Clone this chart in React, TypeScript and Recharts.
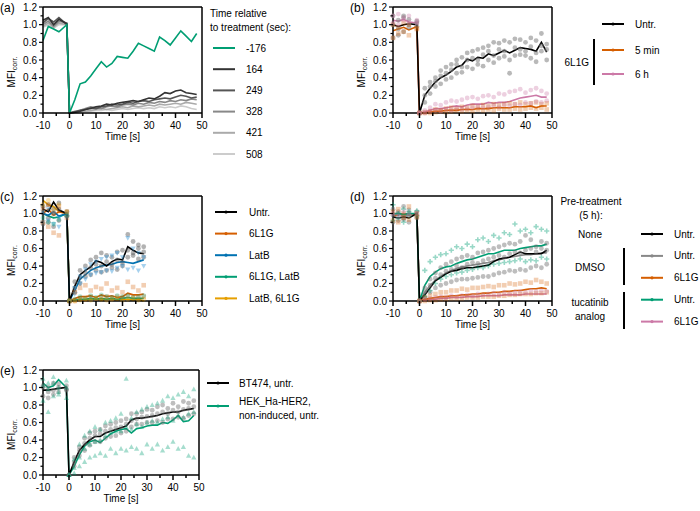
import React from "react";
import { ComposedChart, Line, Scatter, XAxis, YAxis, ReferenceLine } from "recharts";

const FONT = "'Liberation Sans', Arial, sans-serif";
const GREEN = "#009E73";
const ORANGE = "#D55E00";
const PINK = "#CC79A7";
const BLUE = "#0072B2";
const YELLOW = "#E69F00";

// sampling times (s), shared by every panel
const T = [-10, -8, -6, -4, -1, 0, 2, 4, 6, 8, 10, 12, 14, 16, 18, 20, 22, 24, 26, 28, 30, 32, 34, 36, 38, 40, 42, 44, 46, 48];
const X_TICKS = [-10, -5, 0, 5, 10, 15, 20, 25, 30, 35, 40, 45, 50];
const Y_TICKS = [0, 0.1, 0.2, 0.3, 0.4, 0.5, 0.6, 0.7, 0.8, 0.9, 1.0, 1.1, 1.2];

// (a) single traces, time relative to treatment
const A_LABELS = ["-176", "164", "249", "328", "421", "508"];
const aM176 = [0.82, 0.98, 0.95, 0.92, 1.0, 0, 0.15, 0.33, 0.35, 0.42, 0.5, 0.58, 0.52, 0.56, 0.64, 0.63, 0.62, 0.7, 0.79, 0.76, 0.73, 0.7, 0.86, 0.82, 0.77, 0.85, 0.93, 0.87, 0.81, 0.9];
const a164 = [1.05, 1.08, 1.0, 1.06, 1.01, 0, 0.01, 0.02, 0.04, 0.05, 0.07, 0.08, 0.1, 0.09, 0.11, 0.12, 0.13, 0.14, 0.13, 0.15, 0.17, 0.16, 0.19, 0.23, 0.22, 0.25, 0.26, 0.23, 0.22, 0.21];
const a249 = [1.02, 1.07, 1.03, 1.08, 1.0, 0, 0.01, 0.03, 0.04, 0.06, 0.05, 0.07, 0.08, 0.1, 0.09, 0.1, 0.12, 0.11, 0.13, 0.14, 0.13, 0.15, 0.16, 0.17, 0.16, 0.18, 0.2, 0.19, 0.17, 0.18];
const a328 = [1.0, 1.04, 0.98, 1.04, 1.02, 0, 0.02, 0.03, 0.05, 0.07, 0.06, 0.05, 0.07, 0.08, 0.07, 0.09, 0.1, 0.09, 0.11, 0.1, 0.12, 0.11, 0.13, 0.12, 0.14, 0.13, 0.15, 0.14, 0.16, 0.15];
const a421 = [0.98, 1.02, 0.97, 1.02, 1.0, 0, 0.01, 0.02, 0.02, 0.03, 0.04, 0.05, 0.04, 0.05, 0.06, 0.07, 0.06, 0.08, 0.07, 0.08, 0.09, 0.08, 0.1, 0.09, 0.1, 0.11, 0.1, 0.12, 0.11, 0.1];
const a508 = [0.97, 1.0, 0.96, 1.0, 1.0, 0, 0.0, 0.01, 0.02, 0.02, 0.03, 0.03, 0.04, 0.03, 0.04, 0.05, 0.04, 0.05, 0.06, 0.05, 0.06, 0.05, 0.07, 0.06, 0.07, 0.06, 0.08, 0.07, 0.05, 0.04];
const A_COLORS = [GREEN, "#333333", "#555555", "#888888", "#aaaaaa", "#cccccc"];

// (b) means
const bUntr = [1.0, 0.98, 1.0, 1.01, 1.0, 0, 0.2, 0.28, 0.35, 0.4, 0.43, 0.47, 0.52, 0.54, 0.61, 0.59, 0.63, 0.62, 0.67, 0.65, 0.68, 0.71, 0.68, 0.71, 0.74, 0.73, 0.72, 0.7, 0.8, 0.69];
const b5min = [0.93, 0.95, 0.97, 0.94, 0.98, 0, 0.0, 0.01, 0.02, 0.02, 0.03, 0.03, 0.03, 0.04, 0.04, 0.04, 0.05, 0.05, 0.05, 0.06, 0.06, 0.06, 0.06, 0.07, 0.07, 0.07, 0.08, 0.06, 0.08, 0.08];
const b6h = [1.05, 1.04, 1.06, 1.03, 1.02, 0, 0.01, 0.03, 0.05, 0.05, 0.06, 0.07, 0.08, 0.07, 0.09, 0.1, 0.1, 0.1, 0.12, 0.11, 0.12, 0.12, 0.13, 0.15, 0.17, 0.18, 0.19, 0.2, 0.18, 0.18];
// (b) replicates
const bUntrReps = [
  [1.1, 1.05, 1.08, 1.06, 1.02, 0, 0.28, 0.35, 0.4, 0.48, 0.52, 0.55, 0.6, 0.63, 0.68, 0.7, 0.72, 0.74, 0.76, 0.8, 0.79, 0.82, 0.8, 0.84, 0.83, 0.8, 0.85, 0.82, 0.9, 0.78],
  [0.85, 0.95, 0.92, 0.97, 0.98, 0, 0.12, 0.22, 0.3, 0.33, 0.38, 0.4, 0.45, 0.46, 0.52, 0.5, 0.55, 0.53, 0.6, 0.57, 0.62, 0.64, 0.6, 0.65, 0.66, 0.65, 0.62, 0.58, 0.7, 0.6],
  [1.0, 0.88, 1.1, 1.0, 1.04, 0, 0.2, 0.3, 0.36, 0.42, 0.45, 0.49, 0.55, 0.52, 0.6, 0.62, 0.6, 0.66, 0.7, 0.65, 0.72, 0.7, 0.45, 0.74, 0.72, 0.7, 0.75, 0.68, 0.76, 0.72],
];
const b5minReps = [
  [0.85, 0.9, 0.92, 0.88, 0.95, 0, 0.0, 0.02, 0.04, 0.03, 0.05, 0.06, 0.05, 0.07, 0.06, 0.08, 0.07, 0.09, 0.08, 0.1, 0.09, 0.1, 0.11, 0.1, 0.12, 0.1, 0.11, 0.12, 0.1, 0.11],
  [1.0, 0.97, 1.02, 1.0, 0.96, 0, 0.01, 0.0, 0.01, 0.02, 0.01, 0.02, 0.03, 0.02, 0.03, 0.02, 0.04, 0.03, 0.04, 0.03, 0.05, 0.04, 0.04, 0.05, 0.04, 0.05, 0.06, 0.05, 0.06, 0.04],
];
const b6hReps = [
  [1.1, 1.12, 1.08, 1.1, 1.05, 0, 0.03, 0.06, 0.1, 0.09, 0.12, 0.14, 0.13, 0.15, 0.17, 0.18, 0.16, 0.19, 0.2, 0.18, 0.22, 0.21, 0.24, 0.25, 0.27, 0.23, 0.26, 0.28, 0.25, 0.22],
  [1.02, 1.0, 1.05, 1.03, 1.02, 0, 0.0, 0.02, 0.03, 0.02, 0.04, 0.03, 0.05, 0.04, 0.05, 0.06, 0.07, 0.06, 0.07, 0.08, 0.07, 0.09, 0.08, 0.1, 0.09, 0.12, 0.11, 0.13, 0.12, 0.14],
];

// (c) means (recorded up to 28 s)
const C_LABELS = ["Untr.", "6L1G", "LatB", "6L1G, LatB", "LatB, 6L1G"];
const cUntr = [1.05, 1.02, 1.13, 1.04, 1.0, 0, 0.17, 0.3, 0.35, 0.39, 0.46, 0.44, 0.4, 0.45, 0.48, 0.47, 0.62, 0.58, 0.55, 0.54];
const c6L1G = [1.0, 1.05, 0.98, 1.02, 1.0, 0, 0.03, 0.05, 0.05, 0.06, 0.04, 0.07, 0.05, 0.06, 0.04, 0.05, 0.09, 0.07, 0.07, 0.08];
const cLatB = [1.0, 0.98, 1.02, 0.97, 1.0, 0, 0.12, 0.25, 0.3, 0.35, 0.38, 0.4, 0.41, 0.42, 0.44, 0.45, 0.44, 0.43, 0.45, 0.47];
const c6L1GLatB = [1.0, 0.97, 0.95, 0.96, 1.0, 0, 0.01, 0.02, 0.02, 0.03, 0.02, 0.03, 0.02, 0.03, 0.02, 0.03, 0.04, 0.03, 0.03, 0.03];
const cLatB6L1G = [1.15, 1.1, 1.08, 1.02, 1.0, 0, 0.01, 0.02, 0.01, 0.02, 0.02, 0.01, 0.02, 0.02, 0.01, 0.02, 0.02, 0.01, 0.02, 0.0];
const C_COLORS = ["#000000", ORANGE, BLUE, GREEN, YELLOW];
// (c) replicates
const cUntrReps = [
  [1.08, 1.1, 1.05, 1.12, 1.02, 0, 0.22, 0.35, 0.4, 0.47, 0.5, 0.55, 0.52, 0.5, 0.56, 0.58, 0.76, 0.68, 0.64, 0.62],
  [0.88, 0.95, 0.85, 0.92, 0.97, 0, 0.1, 0.2, 0.28, 0.3, 0.35, 0.33, 0.35, 0.38, 0.36, 0.4, 0.5, 0.52, 0.48, 0.5],
  [1.0, 0.9, 1.0, 1.05, 0.98, 0, 0.15, 0.27, 0.32, 0.38, 0.42, 0.4, 0.45, 0.42, 0.47, 0.44, 0.58, 0.55, 0.6, 0.56],
];
const cLatBReps = [
  [1.02, 1.05, 1.0, 0.95, 1.0, 0, 0.15, 0.28, 0.36, 0.42, 0.45, 0.48, 0.5, 0.52, 0.55, 0.5, 0.72, 0.6, 0.55, 0.5],
  [0.9, 0.92, 0.88, 0.85, 0.95, 0, 0.08, 0.2, 0.25, 0.3, 0.32, 0.33, 0.35, 0.34, 0.38, 0.4, 0.36, 0.38, 0.35, 0.4],
];
const c6L1GReps = [
  [0.9, 0.85, 0.78, 0.75, 0.95, 0, 0.1, 0.15, 0.18, 0.12, 0.16, 0.14, 0.2, 0.12, 0.15, 0.1, 0.22, 0.16, 0.12, 0.18],
  [1.05, 1.1, 1.0, 1.08, 1.02, 0, 0.0, 0.03, 0.02, 0.05, 0.03, 0.04, 0.05, 0.03, 0.05, 0.04, 0.06, 0.05, 0.04, 0.05],
];
const c6L1GLatBReps = [[0.95, 0.9, 0.88, 0.93, 0.98, 0, 0.02, 0.05, 0.03, 0.06, 0.04, 0.07, 0.05, 0.04, 0.06, 0.05, 0.06, 0.04, 0.05, 0.06]];
const cLatB6L1GReps = [[1.1, 1.15, 1.05, 1.1, 1.02, 0, 0.0, 0.01, 0.02, 0.01, 0.03, 0.02, 0.01, 0.02, 0.03, 0.01, 0.02, 0.03, 0.01, 0.02]];

// (d) means
const dNone = [0.96, 0.95, 0.96, 0.95, 1.0, 0, 0.07, 0.15, 0.23, 0.27, 0.31, 0.34, 0.35, 0.37, 0.38, 0.38, 0.39, 0.4, 0.41, 0.45, 0.48, 0.49, 0.5, 0.53, 0.56, 0.54, 0.54, 0.54, 0.54, 0.58];
const dDmso = [0.98, 1.0, 0.97, 0.99, 1.0, 0, 0.1, 0.18, 0.24, 0.28, 0.32, 0.35, 0.37, 0.39, 0.4, 0.41, 0.42, 0.43, 0.44, 0.46, 0.47, 0.49, 0.5, 0.51, 0.52, 0.53, 0.53, 0.54, 0.55, 0.55];
const dDmso6L1G = [0.97, 0.99, 1.0, 0.98, 1.0, 0, 0.02, 0.03, 0.04, 0.05, 0.05, 0.06, 0.06, 0.07, 0.07, 0.08, 0.08, 0.09, 0.09, 0.1, 0.1, 0.11, 0.11, 0.12, 0.12, 0.13, 0.14, 0.14, 0.15, 0.14];
const dTuca = [1.0, 1.0, 0.99, 1.0, 1.0, 0, 0.18, 0.28, 0.33, 0.37, 0.39, 0.4, 0.43, 0.45, 0.47, 0.48, 0.5, 0.52, 0.54, 0.54, 0.56, 0.58, 0.58, 0.58, 0.6, 0.61, 0.62, 0.63, 0.63, 0.65];
const dTuca6L1G = [0.99, 0.98, 1.0, 0.99, 1.0, 0, 0.01, 0.02, 0.02, 0.03, 0.03, 0.04, 0.04, 0.04, 0.05, 0.05, 0.05, 0.06, 0.06, 0.06, 0.06, 0.07, 0.07, 0.07, 0.07, 0.08, 0.08, 0.08, 0.08, 0.08];
const D_LABELS = ["Untr.", "Untr.", "6L1G", "Untr.", "6L1G"];
const D_COLORS = ["#000000", "#888888", ORANGE, GREEN, PINK];
// (d) replicates
const dUntrReps = [
  [1.05, 1.02, 1.08, 1.0, 1.02, 0, 0.15, 0.25, 0.32, 0.38, 0.42, 0.45, 0.48, 0.5, 0.52, 0.5, 0.55, 0.56, 0.58, 0.6, 0.62, 0.64, 0.66, 0.65, 0.68, 0.75, 0.7, 0.62, 0.68, 0.66],
  [0.9, 0.92, 0.95, 0.9, 0.97, 0, 0.04, 0.1, 0.15, 0.18, 0.2, 0.22, 0.24, 0.25, 0.25, 0.26, 0.27, 0.28, 0.28, 0.3, 0.32, 0.33, 0.35, 0.34, 0.36, 0.35, 0.38, 0.4, 0.38, 0.42],
  [0.98, 1.0, 0.93, 1.04, 0.95, 0, 0.1, 0.18, 0.26, 0.3, 0.34, 0.36, 0.4, 0.38, 0.42, 0.44, 0.43, 0.46, 0.48, 0.5, 0.52, 0.5, 0.54, 0.56, 0.55, 0.58, 0.6, 0.56, 0.6, 0.58],
];
const dTucaReps = [
  [1.1, 1.0, 1.05, 1.02, 1.03, 0, 0.35, 0.45, 0.5, 0.53, 0.54, 0.58, 0.62, 0.6, 0.65, 0.62, 0.7, 0.72, 0.68, 0.75, 0.72, 0.78, 0.76, 0.88, 0.8, 0.82, 0.78, 0.85, 0.82, 0.8],
  [0.92, 0.95, 0.9, 0.97, 0.98, 0, 0.05, 0.12, 0.2, 0.25, 0.28, 0.3, 0.32, 0.33, 0.35, 0.36, 0.38, 0.38, 0.4, 0.42, 0.43, 0.44, 0.45, 0.46, 0.48, 0.45, 0.47, 0.46, 0.5, 0.48],
];
const d6L1GReps = [
  [1.02, 1.05, 1.0, 1.08, 1.0, 0, 0.04, 0.06, 0.08, 0.1, 0.1, 0.12, 0.12, 0.14, 0.13, 0.15, 0.15, 0.16, 0.17, 0.16, 0.18, 0.18, 0.2, 0.19, 0.2, 0.22, 0.21, 0.24, 0.22, 0.2],
  [0.92, 0.9, 0.95, 0.93, 0.96, 0, 0.0, 0.01, 0.01, 0.02, 0.02, 0.03, 0.03, 0.03, 0.04, 0.04, 0.04, 0.05, 0.05, 0.05, 0.06, 0.06, 0.07, 0.07, 0.08, 0.08, 0.08, 0.09, 0.09, 0.1],
];
const dTuca6L1GReps = [[1.0, 0.97, 1.02, 0.98, 1.0, 0, 0.02, 0.03, 0.04, 0.05, 0.04, 0.06, 0.05, 0.06, 0.07, 0.06, 0.08, 0.07, 0.08, 0.09, 0.08, 0.1, 0.09, 0.1, 0.11, 0.1, 0.12, 0.11, 0.12, 0.11]];

// (e) means
const eBT474 = [0.97, 0.97, 0.98, 0.99, 1.0, 0, 0.15, 0.28, 0.35, 0.4, 0.44, 0.44, 0.48, 0.5, 0.52, 0.54, 0.56, 0.63, 0.65, 0.65, 0.66, 0.67, 0.68, 0.7, 0.71, 0.72, 0.72, 0.74, 0.75, 0.76];
const eHEK = [1.05, 1.0, 1.02, 1.09, 1.0, 0, 0.1, 0.23, 0.33, 0.38, 0.4, 0.37, 0.42, 0.47, 0.5, 0.52, 0.53, 0.48, 0.53, 0.54, 0.56, 0.57, 0.57, 0.6, 0.59, 0.63, 0.68, 0.61, 0.62, 0.68];
// (e) replicates
const eBT474Reps = [
  [1.02, 1.0, 1.05, 1.04, 1.02, 0, 0.2, 0.32, 0.42, 0.48, 0.5, 0.52, 0.56, 0.58, 0.6, 0.62, 0.64, 0.7, 0.7, 0.72, 0.75, 0.74, 0.78, 0.8, 0.76, 0.82, 0.78, 0.84, 0.82, 0.85],
  [0.9, 0.88, 0.92, 0.95, 0.97, 0, 0.1, 0.22, 0.28, 0.34, 0.38, 0.38, 0.42, 0.44, 0.45, 0.48, 0.5, 0.55, 0.58, 0.58, 0.6, 0.6, 0.62, 0.6, 0.64, 0.64, 0.66, 0.65, 0.68, 0.7],
  [1.0, 0.95, 0.97, 1.0, 0.98, 0, 0.15, 0.28, 0.36, 0.42, 0.45, 0.47, 0.5, 0.52, 0.54, 0.55, 0.58, 0.62, 0.64, 0.66, 0.67, 0.68, 0.7, 0.72, 0.7, 0.74, 0.72, 0.75, 0.76, 0.78],
];
const eHEKReps = [
  [1.1, 1.05, 1.12, 1.0, 1.08, 0, 0.18, 0.35, 0.45, 0.5, 0.55, 0.52, 0.6, 0.62, 0.65, 0.7, 1.1, 0.65, 0.72, 0.75, 0.78, 0.8, 0.82, 0.85, 0.9, 0.88, 0.92, 0.95, 0.9, 0.98],
  [0.85, 0.72, 0.9, 0.95, 0.88, 0, 0.02, 0.1, 0.15, 0.2, 0.22, 0.25, 0.22, 0.3, 0.25, 0.3, 0.28, 0.32, 0.3, 0.25, 0.35, 0.3, 0.35, 0.28, 0.32, 0.38, 0.3, 0.32, 0.22, 0.2],
  [1.02, 0.98, 1.05, 0.92, 1.0, 0, 0.08, 0.2, 0.3, 0.35, 0.38, 0.4, 0.45, 0.48, 0.5, 0.5, 0.55, 0.52, 0.58, 0.55, 0.6, 0.62, 0.6, 0.64, 0.66, 0.62, 0.68, 0.66, 0.7, 0.72],
];

const YW = 30;
const XH = 33;
const MT = 6;
const AXIS = { stroke: "#000", strokeWidth: 1.5 };

type LineSer = { key: string; vals: number[]; color: string };
type DotSer = { rows: number[][]; color: string; kind: string; op: number };

function XTick(p: any) {
  const v = p.payload.value;
  const major = v % 10 === 0;
  const ay = p.y - 8;
  return (
    <g>
      <line x1={p.x} x2={p.x} y1={ay} y2={ay + (major ? 5 : 3)} stroke="#000" strokeWidth={1.5} />
      {major && (
        <text x={p.x} y={p.y} dy="0.78em" textAnchor="middle" fontSize={10} fill="#000">
          {v}
        </text>
      )}
    </g>
  );
}

function YTick(p: any) {
  const v = p.payload.value;
  const major = Math.round(v * 10) % 2 === 0;
  const ax = p.x + 6;
  return (
    <g>
      <line x1={ax - (major ? 4 : 2.5)} x2={ax} y1={p.y} y2={p.y} stroke="#000" strokeWidth={1.2} />
      {major && (
        <text x={ax - 6} y={p.y} dy="0.35em" textAnchor="end" fontSize={10} fill="#000">
          {v.toFixed(1)}
        </text>
      )}
    </g>
  );
}

function XLab(p: any) {
  const vb = p.viewBox || {};
  return (
    <text x={vb.x + vb.width / 2} y={vb.y + 27} textAnchor="middle" fontSize={10} fill="#000">
      Time [s]
    </text>
  );
}

function YLab(p: any) {
  const vb = p.viewBox || {};
  const x = vb.x - 2;
  const y = vb.y + vb.height / 2 + 12;
  return (
    <text x={x} y={y} transform={`rotate(-90 ${x} ${y})`} textAnchor="middle" dominantBaseline="central" fontSize={10} fill="#000">
      MFI
      <tspan fontSize={7} dy={3}>
        corr.
      </tspan>
    </text>
  );
}

function marker(kind: string, fill: string, op: number) {
  return (p: any) => {
    const { cx, cy } = p;
    if (cx == null || cy == null) return <g />;
    if (kind === "square") return <rect x={cx - 2.3} y={cy - 2.3} width={4.6} height={4.6} fill={fill} fillOpacity={op} />;
    if (kind === "tri") return <path d={`M${cx},${cy - 2.8}L${cx + 2.6},${cy + 2}L${cx - 2.6},${cy + 2}Z`} fill={fill} fillOpacity={op} />;
    if (kind === "tridown") return <path d={`M${cx},${cy + 2.8}L${cx + 2.6},${cy - 2}L${cx - 2.6},${cy - 2}Z`} fill={fill} fillOpacity={op} />;
    if (kind === "cross")
      return (
        <path d={`M${cx - 2.6},${cy}H${cx + 2.6}M${cx},${cy - 2.6}V${cy + 2.6}`} stroke={fill} strokeOpacity={op} strokeWidth={1.6} />
      );
    return <circle cx={cx} cy={cy} r={2.4} fill={fill} fillOpacity={op} />;
  };
}

function pts(rows: number[][]) {
  return rows.flatMap((row) => row.map((v, i) => ({ t: T[i], v })));
}

function Panel(props: { colX: number; px: number; py: number; pw: number; ph: number; lines: LineSer[]; dots: DotSer[]; width?: number }) {
  const { colX, px, py, pw, ph, lines, dots } = props;
  const rows = T.map((t, i) => {
    const r: Record<string, number> = { t };
    lines.forEach((s) => {
      if (i < s.vals.length) r[s.key] = s.vals[i];
    });
    return r;
  });
  return (
    <div style={{ position: "absolute", left: colX, top: py - MT }}>
      <ComposedChart
        width={px - colX + pw + 6}
        height={MT + ph + XH}
        data={rows}
        margin={{ top: MT, right: 6, bottom: 0, left: px - colX - YW }}
      >
        <XAxis
          dataKey="t"
          type="number"
          domain={[-10, 50]}
          ticks={X_TICKS}
          interval={0}
          tick={XTick}
          tickLine={false}
          tickSize={5}
          tickMargin={3}
          axisLine={AXIS}
          height={XH}
          label={XLab}
        />
        <YAxis
          type="number"
          domain={[0, 1.2]}
          ticks={Y_TICKS}
          interval={0}
          tick={YTick}
          tickLine={false}
          tickSize={4}
          tickMargin={2}
          axisLine={AXIS}
          width={YW}
          label={YLab}
        />
        <ReferenceLine y={1.2} stroke="#000" strokeWidth={1.5} />
        <ReferenceLine x={50} stroke="#000" strokeWidth={1.5} />
        {dots.map((d, j) => (
          <Scatter key={"s" + j} data={pts(d.rows)} dataKey="v" shape={marker(d.kind, d.color, d.op)} isAnimationActive={false} />
        ))}
        {lines.map((s) => (
          <Line key={s.key} type="linear" dataKey={s.key} stroke={s.color} strokeWidth={1.6} dot={false} isAnimationActive={false} />
        ))}
      </ComposedChart>
    </div>
  );
}

function Key({ x, y, color, dot = true }: { x: number; y: number; color: string; dot?: boolean }) {
  return (
    <g>
      <line x1={x} x2={x + 22} y1={y} y2={y} stroke={color} strokeWidth={2} />
      {dot && <circle cx={x + 11} cy={y} r={1.6} fill={color} />}
    </g>
  );
}

function Overlay() {
  const t = { fontSize: 10, fill: "#000", dominantBaseline: "central" as const };
  return (
    <svg width={700} height={511} style={{ position: "absolute", left: 0, top: 0, pointerEvents: "none" }}>
      <g fontSize={12}>
        <text x={0} y={8} dominantBaseline="central">(a)</text>
        <text x={350} y={8} dominantBaseline="central">(b)</text>
        <text x={0} y={197} dominantBaseline="central">(c)</text>
        <text x={350} y={197} dominantBaseline="central">(d)</text>
        <text x={0} y={371} dominantBaseline="central">(e)</text>
      </g>

      {/* (a) */}
      <text x={210} y={13} {...t}>Time relative</text>
      <text x={210} y={27} {...t}>to treatment (sec):</text>
      {A_LABELS.map((lab, i) => (
        <g key={lab}>
          <Key x={213} y={48 + i * 21.2} color={A_COLORS[i]} dot={false} />
          <text x={246} y={48 + i * 21.2} {...t}>{lab}</text>
        </g>
      ))}

      {/* (b) */}
      <Key x={602} y={24} color="#000" />
      <text x={635} y={24} {...t}>Untr.</text>
      <Key x={602} y={50} color={ORANGE} />
      <text x={635} y={50} {...t}>5 min</text>
      <Key x={602} y={74} color={PINK} />
      <text x={635} y={74} {...t}>6 h</text>
      <text x={589} y={62} textAnchor="end" {...t}>6L1G</text>
      <line x1={594} x2={594} y1={39} y2={85} stroke="#000" strokeWidth={2} />

      {/* (c) */}
      {C_LABELS.map((lab, i) => (
        <g key={lab}>
          <Key x={215} y={212 + i * 21.6} color={C_COLORS[i]} />
          <text x={249} y={212 + i * 21.6} {...t}>{lab}</text>
        </g>
      ))}

      {/* (d) */}
      <text x={591} y={201} textAnchor="middle" {...t}>Pre-treatment</text>
      <text x={591} y={215} textAnchor="middle" {...t}>(5 h):</text>
      <text x={590} y={234} textAnchor="middle" {...t}>None</text>
      <text x={590} y={267} textAnchor="middle" {...t}>DMSO</text>
      <text x={590} y={302} textAnchor="middle" {...t}>tucatinib</text>
      <text x={590} y={316} textAnchor="middle" {...t}>analog</text>
      <line x1={624} x2={624} y1={248} y2={285} stroke="#000" strokeWidth={2} />
      <line x1={624} x2={624} y1={292} y2={329} stroke="#000" strokeWidth={2} />
      {D_LABELS.map((lab, i) => (
        <g key={"d" + i}>
          <Key x={641} y={234 + i * 21.9} color={D_COLORS[i]} />
          <text x={674} y={234 + i * 21.9} {...t}>{lab}</text>
        </g>
      ))}

      {/* (e) */}
      <Key x={207} y={383} color="#000" />
      <text x={239} y={383} {...t}>BT474, untr.</text>
      <Key x={207} y={406} color={GREEN} />
      <text x={239} y={401} {...t}>HEK_Ha-HER2,</text>
      <text x={239} y={415} {...t}>non-induced, untr.</text>
    </svg>
  );
}

export default function App() {
  return (
    <div style={{ position: "absolute", left: 0, top: 0, width: 700, height: 511, background: "#fff", fontFamily: FONT }}>
      <Panel
        colX={0} px={43} py={7} pw={159} ph={106}
        dots={[]}
        lines={[
          { key: "a508", vals: a508, color: A_COLORS[5] },
          { key: "a421", vals: a421, color: A_COLORS[4] },
          { key: "a328", vals: a328, color: A_COLORS[3] },
          { key: "a249", vals: a249, color: A_COLORS[2] },
          { key: "a164", vals: a164, color: A_COLORS[1] },
          { key: "aM176", vals: aM176, color: A_COLORS[0] },
        ]}
      />
      <Panel
        colX={350} px={393} py={7} pw={159} ph={106}
        dots={[
          { rows: bUntrReps, color: "#808080", kind: "circle", op: 0.55 },
          { rows: b5minReps, color: ORANGE, kind: "square", op: 0.3 },
          { rows: b6hReps, color: PINK, kind: "circle", op: 0.35 },
        ]}
        lines={[
          { key: "b6h", vals: b6h, color: PINK },
          { key: "b5min", vals: b5min, color: ORANGE },
          { key: "bUntr", vals: bUntr, color: "#000" },
        ]}
      />
      <Panel
        colX={0} px={43} py={196} pw={159} ph={105}
        dots={[
          { rows: cUntrReps, color: "#555555", kind: "circle", op: 0.45 },
          { rows: cLatBReps, color: "#3a9ad9", kind: "tridown", op: 0.45 },
          { rows: c6L1GReps, color: ORANGE, kind: "square", op: 0.3 },
          { rows: c6L1GLatBReps, color: GREEN, kind: "circle", op: 0.3 },
          { rows: cLatB6L1GReps, color: YELLOW, kind: "circle", op: 0.3 },
        ]}
        lines={[
          { key: "cLatB6L1G", vals: cLatB6L1G, color: YELLOW },
          { key: "c6L1GLatB", vals: c6L1GLatB, color: GREEN },
          { key: "c6L1G", vals: c6L1G, color: ORANGE },
          { key: "cLatB", vals: cLatB, color: BLUE },
          { key: "cUntr", vals: cUntr, color: "#000" },
        ]}
      />
      <Panel
        colX={350} px={393} py={196} pw={159} ph={105}
        dots={[
          { rows: dUntrReps, color: "#6e6e6e", kind: "circle", op: 0.45 },
          { rows: dTucaReps, color: GREEN, kind: "cross", op: 0.4 },
          { rows: d6L1GReps, color: ORANGE, kind: "square", op: 0.3 },
          { rows: dTuca6L1GReps, color: PINK, kind: "circle", op: 0.35 },
        ]}
        lines={[
          { key: "dTuca6L1G", vals: dTuca6L1G, color: PINK },
          { key: "dDmso6L1G", vals: dDmso6L1G, color: ORANGE },
          { key: "dDmso", vals: dDmso, color: "#888888" },
          { key: "dTuca", vals: dTuca, color: GREEN },
          { key: "dNone", vals: dNone, color: "#000" },
        ]}
      />
      <Panel
        colX={0} px={43} py={370} pw={156} ph={105}
        dots={[
          { rows: eBT474Reps, color: "#6e6e6e", kind: "circle", op: 0.45 },
          { rows: eHEKReps, color: GREEN, kind: "tri", op: 0.35 },
        ]}
        lines={[
          { key: "eHEK", vals: eHEK, color: GREEN },
          { key: "eBT474", vals: eBT474, color: "#000" },
        ]}
      />
      <Overlay />
    </div>
  );
}
